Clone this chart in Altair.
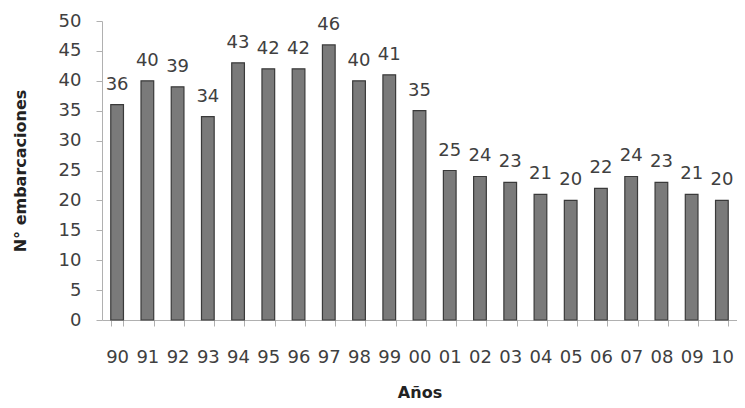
import altair as alt
import pandas as pd

years = ["90","91","92","93","94","95","96","97","98","99","00",
         "01","02","03","04","05","06","07","08","09","10"]
values = [36,40,39,34,43,42,42,46,40,41,35,25,24,23,21,20,22,24,23,21,20]

df = pd.DataFrame({"year": years, "n": values})

font = "DejaVu Sans"

base = alt.Chart(df).encode(
    x=alt.X("year:N", sort=years, title="Años",
            scale=alt.Scale(paddingInner=0.58, paddingOuter=0.29),
            axis=alt.Axis(labelAngle=0, tickBand="extent", labelPadding=22,
                          titlePadding=18, labelFontSize=18, titleFontSize=16,
                          labelColor="#404040", titleColor="#222", titleFontWeight="bold",
                          domainColor="#b0b0b0", tickColor="#b0b0b0", tickSize=6,
                          labelFont=font, titleFont=font)),
    y=alt.Y("n:Q", title="N° embarcaciones",
            scale=alt.Scale(domain=[0, 50], nice=False),
            axis=alt.Axis(values=list(range(0, 51, 5)), grid=False, labelPadding=15,
                          labelFontSize=18, titleFontSize=16, titleFontWeight="bold",
                          labelColor="#404040", titleColor="#222", titlePadding=30,
                          domainColor="#b0b0b0", tickColor="#b0b0b0", tickSize=6,
                          labelFont=font, titleFont=font))
)

bars = base.mark_bar(color="#7a7a7a", stroke="#3a3a3a", strokeWidth=1.2)
text = base.mark_text(dy=-11, baseline="bottom", fontSize=18, color="#404040",
                      font=font).encode(text="n:Q")

chart = (bars + text).properties(
    width=635, height=299,
    padding={"left": 94, "top": 13, "right": 0, "bottom": 86},
    autosize=alt.AutoSizeParams(type="none")
).configure(background="white").configure_view(stroke=None)

chart.save("out.html", embed_options={"renderer": "svg", "actions": False})
